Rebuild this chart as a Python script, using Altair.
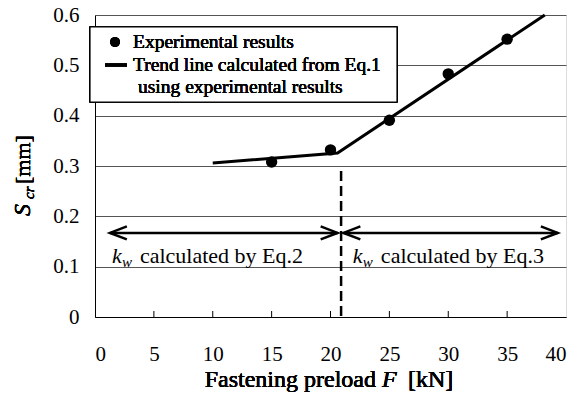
import altair as alt
import pandas as pd

# ---- data ----
F_exp = [15, 20, 25, 30, 35]
S_exp = [0.308, 0.332, 0.391, 0.483, 0.552]

trend_F = [10, 20.6, 38.2]
trend_S = [0.306, 0.326, 0.6]

x_ticks = [0, 5, 10, 15, 20, 25, 30, 35, 40]
y_ticks = [0, 0.1, 0.2, 0.3, 0.4, 0.5, 0.6]
inner_ticks = [5, 10, 15, 20, 25, 30, 35]

boundary_F = 20.9
boundary_S = [0.29, 0.0]

arrow_S = 0.167
arrow_left = [1.27, 20.6]
arrow_right = [21.1, 39.3]
label_S = 0.107
label_F = [1.44, 21.9]
label_txt = ["calculated by Eq.2", "calculated by Eq.3"]

W, H = 471, 302
SERIF = "Liberation Serif"

xs = alt.Scale(domain=[0, 40], nice=False, zero=False)
ys = alt.Scale(domain=[0, 0.6], nice=False, zero=False)

exp_df = pd.DataFrame({"F": F_exp, "S": S_exp})
trend_df = pd.DataFrame({"F": trend_F, "S": trend_S})

X = lambda f: alt.X(f, scale=xs, axis=alt.Axis(values=x_ticks, title=None))
Y = lambda f: alt.Y(f, scale=ys, axis=alt.Axis(
    values=y_ticks, title=None,
    labelExpr="datum.value == 0 ? '0' : format(datum.value, '.1f')"))

points = alt.Chart(exp_df).mark_circle(color="black", opacity=1, size=130).encode(
    x=X("F:Q"), y=Y("S:Q"))

trend = alt.Chart(trend_df).mark_line(color="black", strokeWidth=3).encode(
    x=X("F:Q"), y=Y("S:Q"))

bdf = pd.DataFrame({"F": [boundary_F], "S0": [boundary_S[0]], "S1": [boundary_S[1]]})
boundary = alt.Chart(bdf).mark_rule(color="black", strokeWidth=2.5, strokeDash=[10, 5]).encode(
    x=X("F:Q"), y=Y("S0:Q"), y2="S1:Q")

tick_df = pd.DataFrame({"F": inner_ticks})
ticks = alt.Chart(tick_df).mark_rule(color="black", strokeWidth=1).encode(
    x=X("F:Q"), y=alt.datum(0, scale=ys), y2=alt.value(H - 6))

arr_df = pd.DataFrame({"x0": [arrow_left[0], arrow_right[0]],
                       "x1": [arrow_left[1], arrow_right[1]],
                       "S": [arrow_S, arrow_S]})
arrows = alt.Chart(arr_df).mark_rule(color="black", strokeWidth=2.5).encode(
    x=X("x0:Q"), x2="x1:Q", y=Y("S:Q"))

left_heads = pd.DataFrame({"F": [arrow_left[0], arrow_right[0]], "S": [arrow_S, arrow_S]})
right_heads = pd.DataFrame({"F": [arrow_left[1], arrow_right[1]], "S": [arrow_S, arrow_S]})
head_l = alt.Chart(left_heads).mark_point(
    shape="M 2.6 -1 L 0 0 L 2.6 1", filled=False, color="black", strokeWidth=2.5,
    size=169, opacity=1).encode(x=X("F:Q"), y=Y("S:Q"))
head_r = alt.Chart(right_heads).mark_point(
    shape="M -2.6 -1 L 0 0 L -2.6 1", filled=False, color="black", strokeWidth=2.5,
    size=169, opacity=1).encode(x=X("F:Q"), y=Y("S:Q"))

lab_df = pd.DataFrame({"F": label_F, "S": [label_S, label_S], "t": label_txt})
k_txt = alt.Chart(lab_df).mark_text(
    text="k", font=SERIF, fontStyle="italic", fontSize=22, align="left",
    baseline="alphabetic", color="black").encode(x=X("F:Q"), y=Y("S:Q"))
w_txt = alt.Chart(lab_df).mark_text(
    text="w", font=SERIF, fontStyle="italic", fontSize=15, align="left",
    baseline="alphabetic", color="black", dx=10, dy=4).encode(x=X("F:Q"), y=Y("S:Q"))
rest_txt = alt.Chart(lab_df).mark_text(
    font=SERIF, fontSize=22, align="left", baseline="alphabetic", color="black",
    dx=28).encode(x=X("F:Q"), y=Y("S:Q"), text="t:N")

# ---- legend (drawn by hand, as in the reference) ----
legend_box = alt.Chart(exp_df).mark_rect(
    fill="white", stroke="black", strokeWidth=1.2).encode(
    x=alt.value(-5), x2=alt.value(302), y=alt.value(12), y2=alt.value(87))
leg_dot = alt.Chart(exp_df).mark_circle(color="black", opacity=1, size=95).encode(
    x=alt.value(20), y=alt.value(27))
leg_line = alt.Chart(exp_df).mark_rule(color="black", strokeWidth=3).encode(
    x=alt.value(10), x2=alt.value(32), y=alt.value(50))
leg_texts = []
for txt_, px, py in [("Experimental results", 38, 27),
                     ("Trend line calculated from Eq.1", 38, 50),
                     ("using experimental results", 43, 72)]:
    leg_texts.append(alt.Chart(exp_df).mark_text(
        text=txt_, font=SERIF, fontSize=19.5, align="left", baseline="middle",
        color="black").encode(x=alt.value(px), y=alt.value(py)))

# ---- axis titles ----
def txt(t, x, y, size, italic=False, angle=0, align="left"):
    kw = dict(text=t, font=SERIF, fontSize=size, align=align,
              baseline="alphabetic", color="black")
    if italic:
        kw["fontStyle"] = "italic"
    if angle:
        kw["angle"] = angle
    return alt.Chart(exp_df).mark_text(**kw).encode(x=alt.value(x), y=alt.value(y))

titles = [
    txt("Fastening preload", 281, 372, 24, align="right"),
    txt("F", 287, 372, 24, italic=True),
    txt("[kN]", 313, 372, 24),
    txt("S", -65, 201, 24, italic=True, angle=270),
    txt("cr", -61, 184, 15, italic=True, angle=270),
    txt("[mm]", -65, 169, 22, angle=270),
]

chart = alt.layer(
    points, trend, boundary, ticks, arrows, head_l, head_r,
    k_txt, w_txt, rest_txt, legend_box, leg_dot, leg_line, *leg_texts, *titles,
).properties(
    width=W, height=H,
    autosize=alt.AutoSizeParams(type="none"),
    padding={"left": 95, "top": 15, "right": 15, "bottom": 77},
).configure_view(stroke="black", strokeWidth=1).configure(
    background="white"
).configure_axisX(
    grid=False, ticks=False, domainColor="black", labelFont=SERIF,
    labelFontSize=21, labelColor="black", labelPadding=26, labelAngle=0,
    labelBaseline="top",
).configure_axisY(
    grid=True, gridColor="#555", gridWidth=1, ticks=False, domainColor="black",
    labelFont=SERIF, labelFontSize=21, labelColor="black", labelPadding=16,
)

chart.save("out.html", embed_options={"renderer": "svg", "actions": False})
